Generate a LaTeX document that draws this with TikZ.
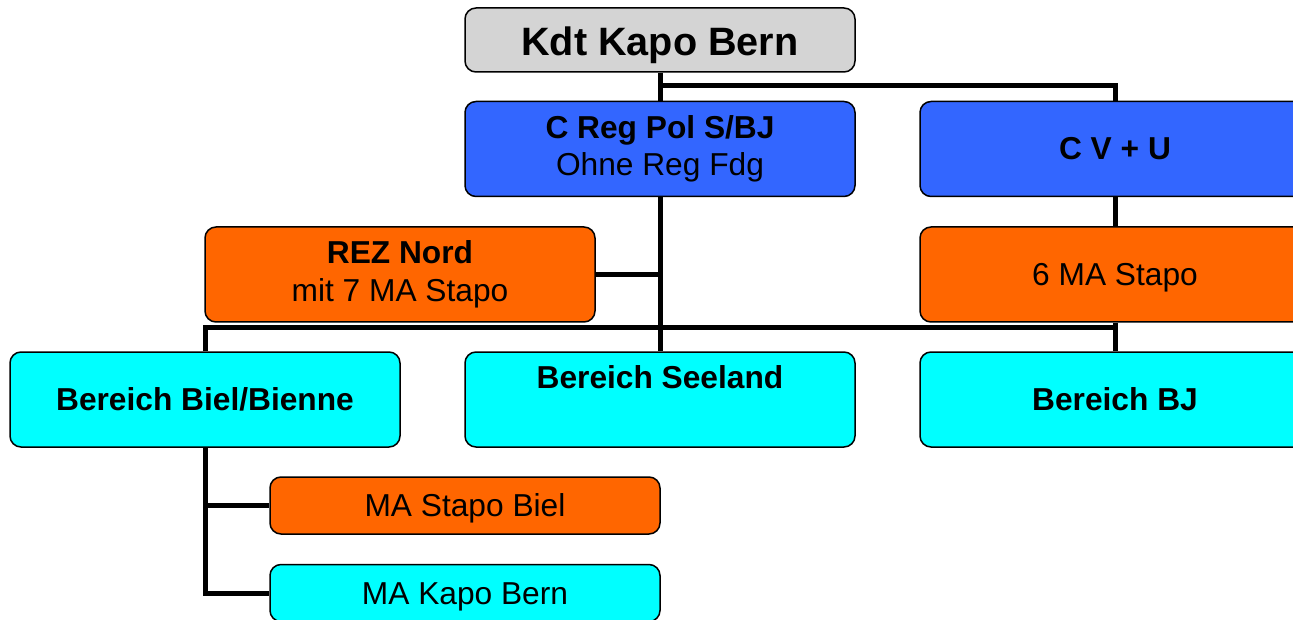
\documentclass[tikz,border=0pt]{standalone}
\usepackage{fontspec}
\setmainfont{Liberation Sans}
\usetikzlibrary{backgrounds}
\definecolor{boxgray}{RGB}{212,212,212}
\definecolor{boxblue}{RGB}{51,102,255}
\definecolor{boxorange}{RGB}{255,102,0}
\definecolor{boxcyan}{RGB}{0,255,255}
\newcommand\bodystrut{\rule[-6.7pt]{0pt}{35.4pt}}
\newcommand\titlestrut{\rule[-8.4pt]{0pt}{48.8pt}}
\tikzset{
  orgbox/.style={draw=black, line width=1.5pt, rounded corners=11pt, inner sep=0pt,
    minimum width=390pt, minimum height=95pt, align=center,
    font=\fontsize{31.7}{37.5}\selectfont,
    execute at begin node=\bodystrut, execute at end node=\bodystrut},
  titlebox/.style={orgbox, minimum height=64pt, font=\fontsize{39.6}{44}\selectfont\bfseries,
    execute at begin node=\titlestrut, execute at end node=\titlestrut},
  smallbox/.style={orgbox, minimum height=57pt},
  conn/.style={draw=black, line width=5pt, line join=miter}
}
\begin{document}
\begin{tikzpicture}[x=1pt,y=-1pt]
\useasboundingbox (0,0) rectangle (1293,620);
\clip (0,0) rectangle (1293,620);

\node[titlebox, fill=boxgray] (kdt) at (660,40) {Kdt Kapo Bern};
\node[orgbox, fill=boxblue] (creg) at (660,149) {\textbf{C Reg Pol S/BJ}\\Ohne Reg Fdg};
\node[orgbox, fill=boxblue] (cvu) at (1115,149) {\textbf{C V + U}};
\node[orgbox, fill=boxorange] (rez) at (400,274.5) {\textbf{REZ Nord}\\mit 7 MA Stapo};
\node[orgbox, fill=boxorange] (ma6) at (1115,274.5) {6 MA Stapo};
\node[orgbox, fill=boxcyan] (biel) at (205,399.5) {\textbf{Bereich Biel/Bienne}};
\node[orgbox, fill=boxcyan] (seeland) at (660,399.5) {\textbf{Bereich Seeland}\\};
\node[orgbox, fill=boxcyan] (bj) at (1115,399.5) {\textbf{Bereich BJ}};
\node[smallbox, fill=boxorange] (stapo) at (465,505.5) {MA Stapo Biel};
\node[smallbox, fill=boxcyan] (kapo) at (465,593) {MA Kapo Bern};

\coordinate (j1) at (660,86);
\coordinate (j2) at (205,327);

\begin{scope}[on background layer]
\draw[conn] (kdt.south) -- (creg.north);
\draw[conn] (j1) -| (cvu.north);
\draw[conn] (cvu.south) -- (ma6.north);
\draw[conn] (creg.south) -- (seeland.north);
\draw[conn] (rez.east) -- (rez.east -| creg.south);
\draw[conn] (ma6.south) -- (bj.north);
\draw[conn] (biel.north) -- (biel.north |- j2) -- (bj.north |- j2);
\draw[conn] (biel.south) |- (kapo.west);
\draw[conn] (biel.south |- stapo.west) -- (stapo.west);
\end{scope}
\end{tikzpicture}
\end{document}
